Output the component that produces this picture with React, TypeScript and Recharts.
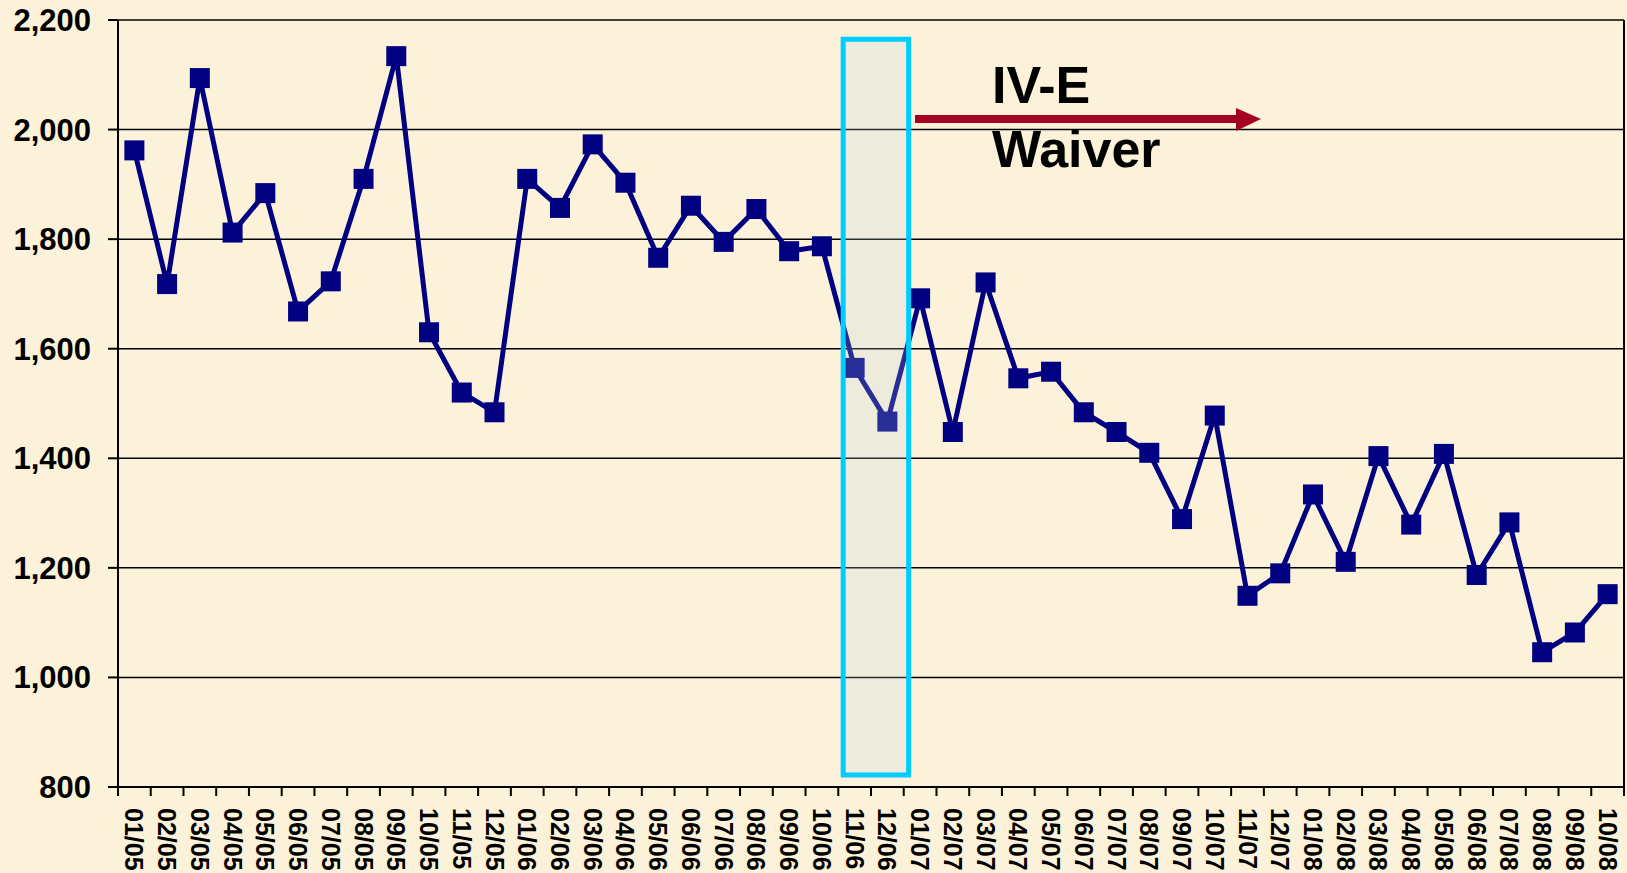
import React from "react"
import {
  LineChart,
  Line,
  XAxis,
  YAxis,
  CartesianGrid,
  ReferenceArea,
  ReferenceLine,
} from "recharts"

const months = [
  "01/05", "02/05", "03/05", "04/05", "05/05", "06/05", "07/05", "08/05", "09/05", "10/05", "11/05", "12/05",
  "01/06", "02/06", "03/06", "04/06", "05/06", "06/06", "07/06", "08/06", "09/06", "10/06", "11/06", "12/06",
  "01/07", "02/07", "03/07", "04/07", "05/07", "06/07", "07/07", "08/07", "09/07", "10/07", "11/07", "12/07",
  "01/08", "02/08", "03/08", "04/08", "05/08", "06/08", "07/08", "08/08", "09/08", "10/08",
]

const counts = [
  1962, 1718, 2094, 1812, 1884, 1668, 1723, 1910, 2134, 1630, 1520, 1484,
  1910, 1857, 1973, 1903, 1766, 1861, 1795, 1855, 1778, 1787, 1565, 1467,
  1692, 1448, 1721, 1546, 1558, 1484, 1448, 1410, 1289, 1478, 1149, 1190,
  1334, 1211, 1404, 1279, 1408, 1187, 1283, 1046, 1082, 1152,
]

const yTicks = [800, 1000, 1200, 1400, 1600, 1800, 2000, 2200]

// waiver window, in month-index units on the hidden numeric axis
const waiverStart = 22.15
const waiverEnd = 24.15

const data = months.map((m, i) => ({ month: m, pos: i + 0.5, value: counts[i] }))

const W = 1627
const H = 873
const PLOT_LEFT = 118
const PLOT_RIGHT = 1624
const PLOT_TOP = 20
const PLOT_BOTTOM = 787
const STEP = (PLOT_RIGHT - PLOT_LEFT) / months.length
const FONT = "'Liberation Sans', Arial, sans-serif"

const MonthTick = (props: any) => {
  const { x, payload, index } = props
  const left = x - STEP / 2
  const right = x + STEP / 2
  return (
    <g>
      <line x1={left} x2={left} y1={PLOT_BOTTOM} y2={PLOT_BOTTOM + 9} stroke="#000" strokeWidth={2} />
      {index === months.length - 1 && (
        <line x1={right} x2={right} y1={PLOT_BOTTOM} y2={PLOT_BOTTOM + 9} stroke="#000" strokeWidth={2} />
      )}
      <text
        x={x}
        y={PLOT_BOTTOM + 21}
        transform={`rotate(90 ${x} ${PLOT_BOTTOM + 21})`}
        dominantBaseline="central"
        textAnchor="start"
        fontFamily={FONT}
        fontWeight="bold"
        fontSize={25}
        fill="#000"
      >
        {payload.value}
      </text>
    </g>
  )
}

const SquareDot = (props: any) => {
  const { cx, cy, index } = props
  if (cx == null || cy == null) return null
  return <rect key={`d-${index}`} x={cx - 10} y={cy - 10} width={20} height={20} fill="#000080" />
}

export default function App() {
  return (
    <div style={{ position: "absolute", left: 0, top: 0, width: W, height: H, background: "#FCF2DA" }}>
      <LineChart
        width={W}
        height={H}
        data={data}
        margin={{ top: PLOT_TOP, right: W - PLOT_RIGHT, left: 0, bottom: 0 }}
      >
        <CartesianGrid horizontal vertical={false} stroke="#000" strokeWidth={1.5} />
        <XAxis
          dataKey="month"
          scale="band"
          interval={0}
          height={H - PLOT_BOTTOM}
          axisLine={{ stroke: "#000", strokeWidth: 2 }}
          tickLine={false}
          tick={<MonthTick />}
        />
        <XAxis
          xAxisId="num"
          dataKey="pos"
          type="number"
          domain={[0, months.length]}
          allowDataOverflow
          hide
        />
        <YAxis
          width={PLOT_LEFT}
          domain={[800, 2200]}
          ticks={yTicks}
          interval={0}
          tickSize={10}
          tickMargin={17}
          axisLine={{ stroke: "#000", strokeWidth: 2 }}
          tickLine={{ stroke: "#000", strokeWidth: 2 }}
          tick={{ fill: "#000", fontSize: 31, fontWeight: "bold", fontFamily: FONT }}
          tickFormatter={(v: number) => v.toLocaleString("en-US")}
        />
        <ReferenceLine xAxisId="num" x={months.length} stroke="#000" strokeWidth={2} ifOverflow="visible" />
        <Line
          type="linear"
          dataKey="value"
          stroke="#000080"
          strokeWidth={5}
          dot={<SquareDot />}
          activeDot={false}
          isAnimationActive={false}
        />
        <ReferenceArea
          xAxisId="num"
          x1={waiverStart}
          x2={waiverEnd}
          y1={2165}
          y2={822}
          fill="rgb(183,210,228)"
          fillOpacity={0.22}
          stroke="#00CCFF"
          strokeWidth={5}
          ifOverflow="visible"
          zIndex={1000}
        />
      </LineChart>
      <svg
        width={W}
        height={H}
        style={{ position: "absolute", left: 0, top: 0, pointerEvents: "none" }}
      >
        <rect x={915} y={115} width={323} height={8} fill="#A50021" />
        <polygon points="1236,108 1261,119 1236,131" fill="#A50021" />
        <text x={992} y={103} fontFamily={FONT} fontWeight="bold" fontSize={52} fill="#000">
          IV-E
        </text>
        <text x={992} y={167} fontFamily={FONT} fontWeight="bold" fontSize={52} fill="#000">
          Waiver
        </text>
      </svg>
    </div>
  )
}
